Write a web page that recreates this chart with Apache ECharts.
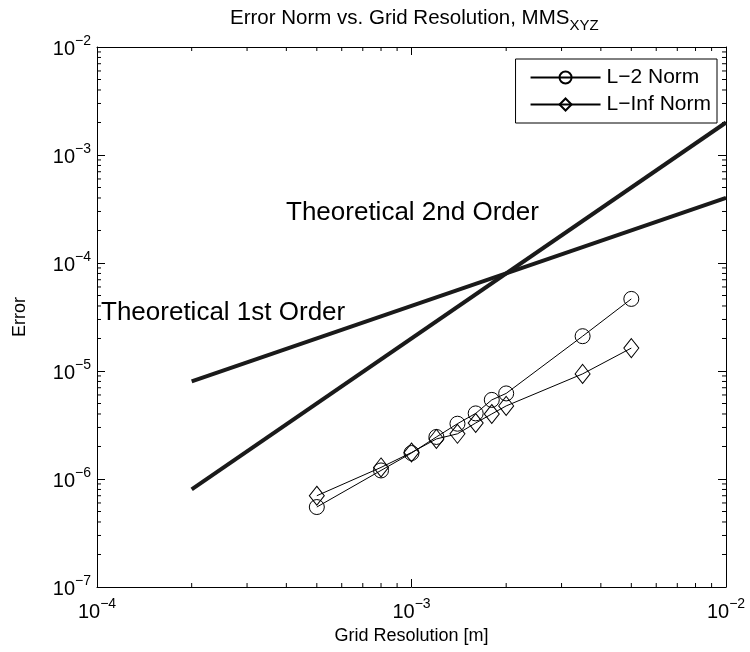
<!DOCTYPE html>
<html><head><meta charset="utf-8">
<script src="https://cdn.jsdelivr.net/npm/echarts@6/dist/echarts.min.js"></script>
<style>html,body{margin:0;padding:0;background:#fff}#c{width:750px;height:652px}</style>
</head><body><div id="c"></div>
<script>
// ---- data ----
const gridRes   = [5e-4, 8e-4, 1e-3, 1.2e-3, 1.4e-3, 1.6e-3, 1.8e-3, 2e-3, 3.5e-3, 5e-3];
const l2Norm    = [5.5e-7, 1.2e-6, 1.74e-6, 2.45e-6, 3.25e-6, 4.05e-6, 5.4e-6, 6.2e-6, 2.1e-5, 4.65e-5];
const lInfNorm  = [7.0e-7, 1.28e-6, 1.76e-6, 2.35e-6, 2.62e-6, 3.3e-6, 4.0e-6, 4.75e-6, 9.4e-6, 1.63e-5];
const theoryX   = [2e-4, 1e-2];
const theory1st = [8e-6, 4e-4];
const theory2nd = [8e-7, 2e-3];
const xRange = [1e-4, 1e-2];
const yRange = [1e-7, 1e-2];
const seriesNames = ['L\u22122 Norm', 'L\u2212Inf Norm'];
const titleMain = 'Error Norm vs. Grid Resolution, MMS';
const titleSub = 'XYZ';
const xName = 'Grid Resolution [m]';
const yName = 'Error';
const note1 = 'Theoretical 1st Order';
const note2 = 'Theoretical 2nd Order';

const FONT = "'Liberation Sans', Arial, Helvetica, sans-serif";
const INK = '#000';

function minorTicks(lo, hi) {
  const out = [];
  for (let e = Math.round(Math.log10(lo)); e < Math.round(Math.log10(hi)); e++) {
    for (let m = 2; m <= 9; m++) out.push(m * Math.pow(10, e));
  }
  return out;
}
const xMinor = minorTicks(xRange[0], xRange[1]);
const yMinor = minorTicks(yRange[0], yRange[1]);
const minorData = xMinor.map(v => [v, 1e-5, 0]).concat(yMinor.map(v => [1e-3, v, 1]));

function expLabel(v) {
  const n = Math.round(Math.log10(v));
  return '{b|10}{e|' + (n < 0 ? '\u2212' + (-n) : n) + '}';
}
const tickRich = {
  b: { fontSize: 20, fontFamily: FONT, color: INK, verticalAlign: 'bottom' },
  e: { fontSize: 14, fontFamily: FONT, color: INK, verticalAlign: 'bottom', padding: [0, 0, 11, 0] }
};

const grid = { left: 97, right: 24, top: 47, bottom: 65 };

function logAxis(pos, range, showLabel, extra) {
  return Object.assign({
    type: 'log', logBase: 10, position: pos, min: range[0], max: range[1],
    axisLine: { show: true, onZero: false, lineStyle: { color: INK, width: 1 } },
    axisTick: { show: true, inside: true, length: 8, lineStyle: { color: INK, width: 1 } },
    splitLine: { show: false },
    axisLabel: showLabel ? { show: true, formatter: expLabel, rich: tickRich } : { show: false }
  }, extra || {});
}

const chart = echarts.init(document.getElementById('c'), null, { renderer: 'canvas' });
const option = {
  animation: false,
  backgroundColor: '#fff',
  title: {
    text: '{a|' + titleMain + '}{s|' + titleSub + '}',
    left: 225, top: 3,
    textStyle: {
      rich: {
        a: { fontSize: 20.5, fontWeight: 'normal', fontFamily: FONT, color: INK, verticalAlign: 'top' },
        s: { fontSize: 15, fontWeight: 'normal', fontFamily: FONT, color: INK, verticalAlign: 'top', padding: [10, 0, 0, 0] }
      }
    }
  },
  grid: grid,
  xAxis: [
    logAxis('bottom', xRange, true, {
      name: xName, nameLocation: 'middle', nameGap: 40,
      nameTextStyle: { fontSize: 18, fontFamily: FONT, color: INK },
      axisLabel: { show: true, formatter: expLabel, rich: tickRich, margin: 10 }
    }),
    logAxis('top', xRange, false)
  ],
  yAxis: [
    logAxis('left', yRange, true, {
      name: yName, nameLocation: 'middle', nameGap: 68, nameRotate: 90,
      nameTextStyle: { fontSize: 18, fontFamily: FONT, color: INK },
      axisLabel: { show: true, formatter: expLabel, rich: tickRich, margin: 6 }
    }),
    logAxis('right', yRange, false)
  ],
  legend: {
    data: seriesNames,
    orient: 'vertical',
    right: 33, top: 59,
    itemWidth: 70, itemHeight: 15, itemGap: 6,
    padding: [8, 6, 8, 14],
    borderColor: INK, borderWidth: 1, borderRadius: 0,
    backgroundColor: '#fff',
    textStyle: { fontSize: 21, fontFamily: FONT, color: INK, padding: [0, 0, 0, 1] }
  },
  series: [
    {
      type: 'custom', silent: true, clip: false, z: 1,
      renderItem: function (params, api) {
        const v0 = api.value(0), v1 = api.value(1), kind = api.value(2);
        const L = 4;
        const st = { stroke: INK, lineWidth: 1 };
        if (kind === 0) {
          const a = api.coord([v0, yRange[0]]);
          const b = api.coord([v0, yRange[1]]);
          return { type: 'group', children: [
            { type: 'line', shape: { x1: a[0], y1: a[1], x2: a[0], y2: a[1] - L }, style: st },
            { type: 'line', shape: { x1: b[0], y1: b[1], x2: b[0], y2: b[1] + L }, style: st }
          ] };
        } else {
          const a = api.coord([xRange[0], v1]);
          const b = api.coord([xRange[1], v1]);
          return { type: 'group', children: [
            { type: 'line', shape: { x1: a[0], y1: a[1], x2: a[0] + L, y2: a[1] }, style: st },
            { type: 'line', shape: { x1: b[0], y1: b[1], x2: b[0] - L, y2: b[1] }, style: st }
          ] };
        }
      },
      data: minorData
    },
    {
      name: 'theory1', type: 'line', symbol: 'none', z: 3,
      lineStyle: { color: '#1a1a1a', width: 4 },
      data: theoryX.map((x, i) => [x, theory1st[i]])
    },
    {
      name: 'theory2', type: 'line', symbol: 'none', z: 3,
      lineStyle: { color: '#1a1a1a', width: 4 },
      data: theoryX.map((x, i) => [x, theory2nd[i]])
    },
    {
      name: seriesNames[0], type: 'line', z: 4,
      symbol: 'circle', symbolSize: 15,
      lineStyle: { color: INK, width: 1 },
      itemStyle: { color: 'rgba(0,0,0,0)', borderColor: INK, borderWidth: 1 },
      data: gridRes.map((x, i) => [x, l2Norm[i]])
    },
    {
      name: seriesNames[1], type: 'line', z: 4,
      symbol: 'diamond', symbolSize: [15, 19],
      lineStyle: { color: INK, width: 1 },
      itemStyle: { color: 'rgba(0,0,0,0)', borderColor: INK, borderWidth: 1 },
      data: gridRes.map((x, i) => [x, lInfNorm[i]])
    }
  ],
  graphic: [
    { type: 'text', left: 286, top: 200, style: { text: note2, font: '26px ' + FONT, fill: INK } },
    { type: 'text', left: 101, top: 300, style: { text: note1, font: '26px ' + FONT, fill: INK } }
  ]
};
chart.setOption(option);
</script>
</body></html>
